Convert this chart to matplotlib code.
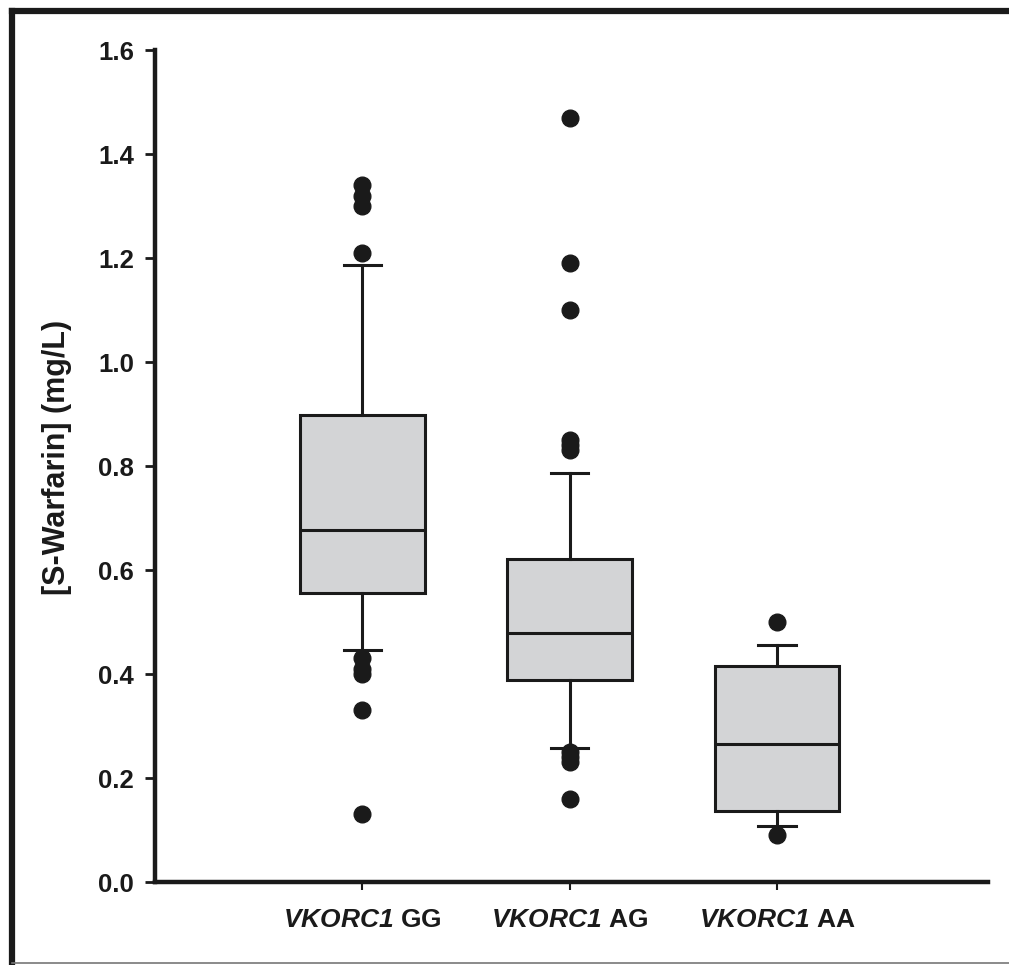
import matplotlib
matplotlib.use("Agg")
import matplotlib.pyplot as plt
from matplotlib.lines import Line2D

plt.rcParams.update({
    "font.family": "Liberation Sans",
    "mathtext.fontset": "custom",
    "mathtext.bfit": "Liberation Sans:italic:bold",
    "mathtext.rm": "Liberation Sans",
})

# values
groups = ["GG", "AG", "AA"]
q1 = [0.556, 0.388, 0.137]
med = [0.677, 0.479, 0.265]
q3 = [0.898, 0.621, 0.415]
whislo = [0.446, 0.258, 0.108]
whishi = [1.187, 0.787, 0.456]
outliers = [
    [1.34, 1.32, 1.30, 1.21, 0.43, 0.41, 0.40, 0.33, 0.13],
    [1.47, 1.19, 1.10, 0.85, 0.84, 0.83, 0.25, 0.24, 0.23, 0.16],
    [0.50, 0.09],
]
yticks = [0.0, 0.2, 0.4, 0.6, 0.8, 1.0, 1.2, 1.4, 1.6]

stats = [dict(q1=a, med=m, q3=b, whislo=lo, whishi=hi, fliers=f, label=g)
         for a, m, b, lo, hi, f, g in zip(q1, med, q3, whislo, whishi, outliers, groups)]

fig = plt.figure(figsize=(10.09, 9.65), dpi=100)
ax = fig.add_axes([0.1536, 0.086, 0.826, 0.862])

bp = ax.bxp(stats, positions=[1, 2, 3], widths=0.6, patch_artist=True,
            capwidths=0.18,
            boxprops=dict(facecolor="#d3d4d6", edgecolor="#1a1a1a", linewidth=2.2),
            medianprops=dict(color="#1a1a1a", linewidth=2.2),
            whiskerprops=dict(color="#1a1a1a", linewidth=2.2),
            capprops=dict(color="#1a1a1a", linewidth=2.2),
            flierprops=dict(marker="o", markersize=12, markerfacecolor="#1a1a1a",
                            markeredgecolor="#1a1a1a", linestyle="none"))

ax.set_xlim(0, 4.02)
ax.set_ylim(0, 1.6)
ax.set_yticks(yticks)
ax.set_yticklabels([f"{v:.1f}" for v in yticks])
ax.set_xticks([1, 2, 3])
ax.set_xticklabels([r"$\mathbfit{VKORC1}$ " + g for g in groups],
                   fontsize=19, fontweight="bold")
for s in ("top", "right"):
    ax.spines[s].set_visible(False)
for s in ("left", "bottom"):
    ax.spines[s].set_linewidth(3.2)
    ax.spines[s].set_color("#1a1a1a")
ax.tick_params(axis="y", direction="out", length=7, width=2, labelsize=18.5,
               pad=8, colors="#1a1a1a")
ax.tick_params(axis="x", direction="out", length=6, width=1.5, pad=13,
               colors="#1a1a1a")
for t in ax.get_yticklabels():
    t.set_fontweight("bold")
ax.set_ylabel("[S-Warfarin] (mg/L)", fontsize=22, fontweight="bold",
              color="#1a1a1a")
ax.yaxis.set_label_coords(-0.100, 0.51)

# frame around the figure
fig.add_artist(Line2D([0.012, 1.0], [0.989, 0.989], color="#1a1a1a",
                      linewidth=4.5, transform=fig.transFigure))
fig.add_artist(Line2D([0.012, 0.012], [0.002, 0.989], color="#1a1a1a",
                      linewidth=4.5, transform=fig.transFigure))
fig.add_artist(Line2D([0.012, 1.0], [0.002, 0.002], color="#777777",
                      linewidth=1.2, transform=fig.transFigure))

fig.savefig("out.png", dpi=100, facecolor="white")
